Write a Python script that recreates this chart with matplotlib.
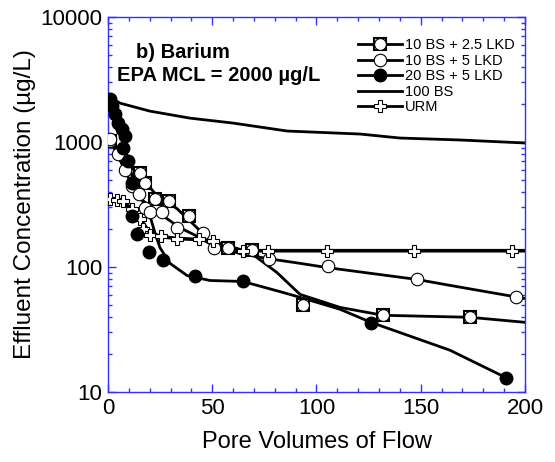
import matplotlib
matplotlib.use("Agg")
import matplotlib.pyplot as plt
from matplotlib.ticker import MultipleLocator, LogLocator, NullFormatter, FixedLocator

plt.rcParams['font.family'] = ['Liberation Sans', 'DejaVu Sans']

# ---- marker data (pore volumes, ug/L) ----
sq_x = [1, 15.3, 17.7, 22.5, 29.3, 38.8, 57.6, 69, 93.5, 132, 173.6]
sq_y = [1018, 566, 471, 351, 339, 257, 143, 138, 49.4, 41, 39.6]

oc_x = [1, 4.8, 8.2, 11.4, 15, 17.7, 20, 25.8, 33, 45.6, 50.8, 77.2, 105.5, 148, 195.7]
oc_y = [1050, 800, 600, 446, 385, 298, 277, 277, 206, 188, 143, 115, 101, 79.5, 58]

fc_x = [1, 1.9, 3.4, 4.8, 6.7, 8.2, 7.2, 9.6, 11.5, 11.5, 13.9, 19.7, 26.4, 41.7, 64.7, 126, 191]
fc_y = [2200, 1936, 1671, 1417, 1270, 1116, 896, 706, 471, 257, 185, 133, 113, 84, 77, 35.5, 12.9]

urm_x = [1, 4.5, 7.2, 11.5, 15.3, 16.8, 20, 25.4, 33, 43.6, 50.4, 64.6, 76.8, 105, 147, 194]
urm_y = [351, 345, 339, 293, 243, 203, 181, 178, 169, 166, 160, 135, 135, 135, 135, 135]

# ---- fitted curves ----
sq_fit_x = [1, 8.2, 15.3, 23.5, 33.1, 42.7, 48.9, 55.2, 68.1, 81, 92.1, 111.3, 131.9, 173.6, 200]
sq_fit_y = [1018, 706, 536, 372, 293, 206, 157, 140, 131, 90.4, 60.4, 47.5, 41.1, 39.6, 36.1]

oc_fit_x = [1, 4.8, 8.2, 12.9, 16.8, 24.9, 34.5, 44.1, 50.4, 63.3, 76.3, 92.1, 105, 148.2, 164, 200]
oc_fit_y = [1018, 773, 588, 407, 339, 267, 206, 172, 148, 128, 117, 107, 99, 79.5, 71.3, 56]

fc_fit_x = [1, 2.4, 4.8, 7.2, 9.6, 11.5, 15.3, 20.1, 22.5, 24.9, 29.7, 37.9, 48.9, 64.7, 83.9,
            92.1, 111.3, 126.1, 164, 191.4]
fc_fit_y = [2243, 1766, 1339, 1018, 732, 536, 372, 257, 188, 143, 107, 85.5, 78, 76.6, 62.6,
            57.2, 45.9, 36.1, 21.6, 12.9]

bs_x = [1, 5.8, 20.1, 39.3, 60, 85.9, 120.9, 140, 168.8, 200]
bs_y = [2284, 2045, 1766, 1552, 1417, 1224, 1158, 1076, 1038, 982]

urm_fit_x = [1, 6.7, 11.5, 15.3, 20.1, 25.4, 33.1, 43.6, 50.4, 64.7, 200]
urm_fit_y = [345, 333, 293, 243, 188, 175, 169, 166, 160, 135, 135]

labels = ['10 BS + 2.5 LKD', '10 BS + 5 LKD', '20 BS + 5 LKD', '100 BS', 'URM']

LW = 2.0
MS = 9
BLUE = '#3030ff'

fig = plt.figure(figsize=(5.55, 4.62), dpi=100)
ax = fig.add_axes([0.1946, 0.1515, 0.7513, 0.8117])

# lines
ax.plot(bs_x, bs_y, color='black', lw=LW, zorder=2)
ax.plot(urm_fit_x, urm_fit_y, color='black', lw=2.6, zorder=2)
ax.plot(oc_fit_x, oc_fit_y, color='black', lw=LW, zorder=2)
ax.plot(sq_fit_x, sq_fit_y, color='black', lw=LW, zorder=2)
ax.plot(fc_fit_x, fc_fit_y, color='black', lw=LW, zorder=2)

# markers
ax.plot(sq_x, sq_y, ls='none', marker='s', ms=8.5, mfc='white', mec='black', mew=1.5, zorder=3)
ax.plot(sq_x, sq_y, ls='none', marker='o', ms=8.5, mfc='white', mec='black', mew=0.8, zorder=3)
ax.plot(oc_x, oc_y, ls='none', marker='o', ms=MS, mfc='white', mec='black', mew=0.8, zorder=3)
ax.plot(urm_x, urm_y, ls='none', marker='P', ms=MS, mfc='white', mec='black', mew=0.8, zorder=4)
ax.plot(fc_x, fc_y, ls='none', marker='o', ms=MS, mfc='black', mec='black', zorder=4)

# legend handles
h_sq_line, = ax.plot([], [], color='black', lw=LW, marker='s', ms=8.5, mfc='white', mec='black', mew=1.5)
h_sq_circ, = ax.plot([], [], ls='none', marker='o', ms=8.5, mfc='white', mec='black', mew=0.8)
h_oc, = ax.plot([], [], color='black', lw=LW, marker='o', ms=MS, mfc='white', mec='black', mew=0.8)
h_fc, = ax.plot([], [], color='black', lw=LW, marker='o', ms=MS, mfc='black', mec='black')
h_bs, = ax.plot([], [], color='black', lw=LW)
h_urm, = ax.plot([], [], color='black', lw=LW, marker='P', ms=MS, mfc='white', mec='black', mew=0.8)

ax.legend([(h_sq_line, h_sq_circ), h_oc, h_fc, h_bs, h_urm], labels,
          loc='upper left', bbox_to_anchor=(0.575, 0.97), frameon=False,
          fontsize=10.5, handlelength=3.0, handletextpad=0.2, labelspacing=0.1,
          borderpad=0.2)

ax.set_yscale('log')
ax.set_xlim(0, 200)
ax.set_ylim(10, 10000)

ax.xaxis.set_major_locator(MultipleLocator(50))
ax.xaxis.set_minor_locator(MultipleLocator(10))
ax.yaxis.set_major_locator(FixedLocator([10, 100, 1000, 10000]))
ax.yaxis.set_major_formatter(plt.FuncFormatter(lambda v, p: '%d' % v))
ax.yaxis.set_minor_locator(LogLocator(base=10, subs=range(2, 10)))
ax.yaxis.set_minor_formatter(NullFormatter())

ax.tick_params(which='both', direction='in', top=True, right=True, color=BLUE,
               labelsize=16, pad=4)
ax.tick_params(which='major', length=6, width=1)
ax.tick_params(which='minor', length=3, width=1)
for s in ax.spines.values():
    s.set_color(BLUE)
    s.set_linewidth(1)

ax.set_xlabel('Pore Volumes of Flow', fontsize=17, labelpad=9)
ax.set_ylabel('Effluent Concentration (\u00b5g/L)', fontsize=17.5, labelpad=3)

ax.text(0.068, 0.905, 'b) Barium', transform=ax.transAxes, fontsize=14.5,
        fontweight='bold', va='center')
ax.text(0.022, 0.845, 'EPA MCL = 2000 \u00b5g/L', transform=ax.transAxes, fontsize=14.5,
        fontweight='bold', va='center')

fig.savefig('out.png', dpi=100)
